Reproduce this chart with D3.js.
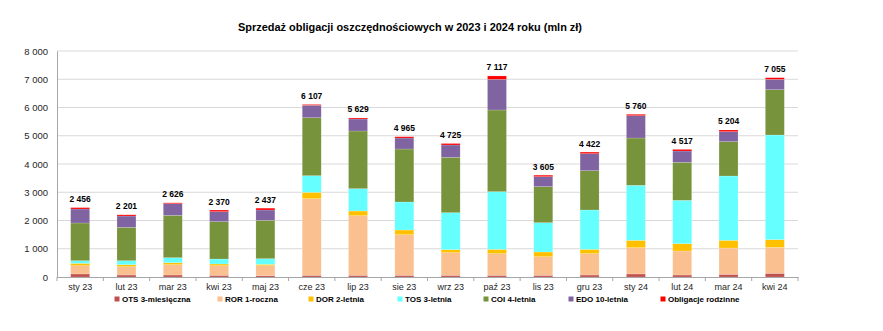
<!DOCTYPE html>
<html><head><meta charset="utf-8">
<script src="https://cdn.jsdelivr.net/npm/d3@7"></script>
<style>body{margin:0;background:#fff}svg{display:block}text{font-family:"Liberation Sans Narrow","Liberation Sans",Arial,sans-serif}</style>
</head><body>
<script>
const categories = ["sty 23","lut 23","mar 23","kwi 23","maj 23","cze 23","lip 23","sie 23","wrz 23","paź 23","lis 23","gru 23","sty 24","lut 24","mar 24","kwi 24"];
const seriesNames = ["OTS 3-miesięczna","ROR 1-roczna","DOR 2-letnia","TOS 3-letnia","COI 4-letnia","EDO 10-letnia","Obligacje rodzinne"];
const OTS = [106,70,70,59,47,59,59,59,59,59,59,70,106,70,94,130];
const ROR = [294,296,367,341,353,2714,2112,1440,802,767,661,756,932,850,933,920];
const DOR = [84,71,70,60,48,224,165,165,107,153,165,153,260,260,271,272];
const TOS = [94,141,177,177,201,590,791,991,1309,2042,1038,1393,1947,1534,2277,3705];
const COI = [1334,1180,1499,1322,1357,2053,2041,1876,1959,2891,1275,1392,1675,1345,1216,1604];
const EDO = [495,401,413,354,366,437,425,389,437,1085,354,602,791,401,354,366];
const RODZ = [49,42,30,57,65,30,36,45,52,120,53,56,49,57,59,58];
const totals = [2456,2201,2626,2370,2437,6107,5629,4965,4725,7117,3605,4422,5760,4517,5204,7055];
const yTicks = [0,1000,2000,3000,4000,5000,6000,7000,8000];
const colors = ["#c0504d","#fac090","#ffc000","#66ffff","#77933c","#8064a2","#ff0000"];

const W = 883, H = 331;
const m = {l:57, r:85, t:51, b:54};
const svg = d3.select("body").append("svg").attr("width",W).attr("height",H);
const x = d3.scaleBand().domain(categories).range([m.l, W-m.r]).paddingInner(0.59).paddingOuter(0.295);
const y = d3.scaleLinear().domain([0,8000]).range([H-m.b, m.t]);

const fmt = v => d3.format(",")(v).replace(/,/g," ");

const title = svg.append("text").attr("x",410).attr("y",31).attr("text-anchor","middle")
  .attr("font-size","12px").attr("font-weight","bold").attr("fill","#000")
  .text("Sprzedaż obligacji oszczędnościowych w 2023 i 2024 roku (mln zł)");
const tl = title.node().getComputedTextLength();
title.attr("font-size", (12*344/tl).toFixed(2)+"px");

svg.append("g").selectAll("line").data(yTicks.slice(1)).join("line")
  .attr("x1",m.l).attr("x2",W-m.r).attr("y1",d=>y(d)).attr("y2",d=>y(d))
  .attr("stroke","#d9d9d9").attr("stroke-width",1);

const ya = svg.append("g").attr("transform",`translate(${m.l},0)`)
  .call(d3.axisLeft(y).tickValues(yTicks).tickFormat(fmt).tickSize(0).tickPadding(9));
ya.select(".domain").attr("stroke","#a6a6a6");
ya.selectAll("text").attr("font-size","9.5px").attr("fill","#262626");

const rows = categories.map((c,i)=>({cat:c, s0:OTS[i], s1:ROR[i], s2:DOR[i], s3:TOS[i], s4:COI[i], s5:EDO[i], s6:RODZ[i]}));
const keys = ["s0","s1","s2","s3","s4","s5","s6"];
const stack = d3.stack().keys(keys)(rows);
svg.append("g").selectAll("g").data(stack).join("g").attr("fill",(d,i)=>colors[i])
  .selectAll("rect").data(d=>d).join("rect")
  .attr("x",d=>x(d.data.cat)).attr("width",x.bandwidth())
  .attr("y",d=>y(d[1])).attr("height",d=>y(d[0])-y(d[1]))
  .attr("stroke","rgba(255,255,255,0.35)").attr("stroke-width",0.5);

const xa = svg.append("g").attr("transform",`translate(0,${H-m.b})`)
  .call(d3.axisBottom(x).tickSize(0).tickPadding(7));
xa.select(".domain").attr("stroke","#a6a6a6");
xa.selectAll("text").attr("font-size","9px").attr("fill","#262626");
const step = x.step();
svg.append("g").selectAll("line").data(d3.range(categories.length+1)).join("line")
  .attr("x1",i=>m.l+i*step).attr("x2",i=>m.l+i*step)
  .attr("y1",H-m.b).attr("y2",H-m.b+4).attr("stroke","#a6a6a6");

svg.append("g").selectAll("text").data(categories).join("text")
  .attr("x",d=>x(d)+x.bandwidth()/2).attr("y",(d,i)=>y(totals[i])-5.5)
  .attr("text-anchor","middle").attr("font-size","8.5px").attr("font-weight","bold").attr("fill","#000")
  .text((d,i)=>fmt(totals[i]));

const legX = [117,220,311,400,486,571,663];
const lg = svg.append("g").selectAll("g").data(seriesNames).join("g")
  .attr("transform",(d,i)=>`translate(${legX[i]},299)`);
lg.append("rect").attr("x",-2.5).attr("y",-2.5).attr("width",5).attr("height",5).attr("fill",(d,i)=>colors[i]);
lg.append("text").attr("x",5).attr("y",3).attr("font-size","8px").attr("font-weight","bold").attr("fill","#000").text(d=>d);
</script>
</body></html>
